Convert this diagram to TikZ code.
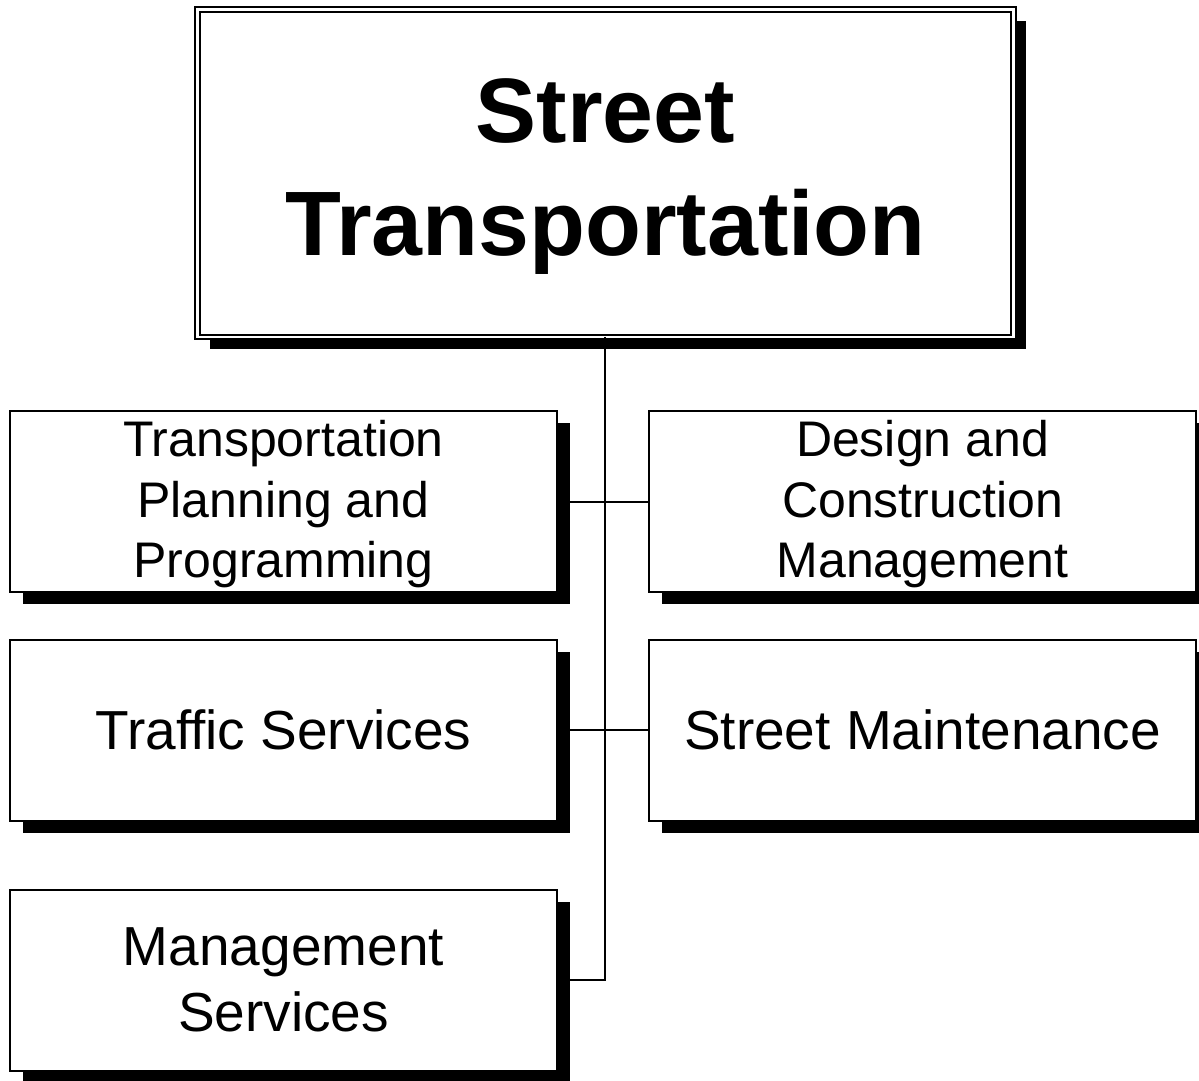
\documentclass[tikz,border=0pt]{standalone}
\usepackage{fontspec}
\setmainfont{Liberation Sans}[Ligatures=NoCommon]
\usetikzlibrary{shadows}
\begin{document}
\begin{tikzpicture}[x=1pt,y=-1pt,
  shad/.style={drop shadow={shadow xshift=13pt,shadow yshift=-12pt,fill=black,opacity=1}},
  unit/.style={draw=black,line width=2pt,fill=white,shad,inner sep=0pt,outer sep=0pt,
    minimum width=547pt,minimum height=181pt,align=center},
  smalltxt/.style={font=\fontsize{50}{60.5}\selectfont,text depth=4.5pt},
  bigtxt/.style={font=\fontsize{55}{66}\selectfont},
  head/.style={draw=black,line width=1.9pt,double=white,double distance=2.6pt,fill=white,
    drop shadow={shadow xshift=13pt,shadow yshift=-12pt,fill=black,opacity=1},
    inner sep=0pt,outer sep=0pt,minimum width=816pt,minimum height=327.5pt,align=center,
    font=\fontsize{91.5}{113}\selectfont\bfseries,text depth=13pt},
  conn/.style={line width=2pt,draw=black}]
\path[fill=white] (0,0) rectangle (1199,1080);
\useasboundingbox (0,0) rectangle (1199,1080);
\node[head] (top) at (605.4,173.2) {Street\\Transportation};
\node[unit,smalltxt] (tpp) at (283.5,501.5) {Transportation\\Planning and\\Programming};
\node[unit,smalltxt] (dcm) at (922.5,501.5) {Design and\\Construction\\Management};
\node[unit,bigtxt] (ts) at (283.5,730) {Traffic Services};
\node[unit,bigtxt] (sm) at (922.5,730) {Street Maintenance};
\node[unit,bigtxt] (ms) at (283.5,980) {Management\\Services};
\coordinate (bend) at (top.south |- ms.east);
\draw[conn] (top.south) -- (bend) -- ([xshift=13pt]ms.east);
\draw[conn] ([xshift=13pt]tpp.east) -- (dcm.west);
\draw[conn] ([xshift=13pt]ts.east) -- (sm.west);
\end{tikzpicture}
\end{document}
